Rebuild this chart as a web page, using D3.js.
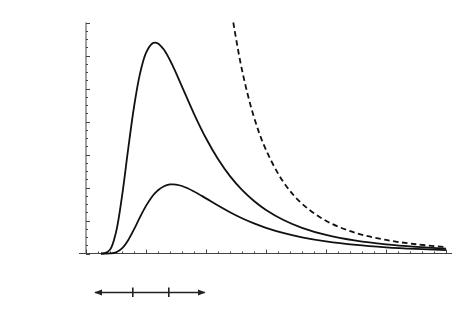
<!DOCTYPE html>
<html>
<head>
<meta charset="utf-8">
<script src="https://cdn.jsdelivr.net/npm/d3@7"></script>
<style>
  html, body { margin: 0; padding: 0; background: #fff; }
  svg { display: block; }
</style>
</head>
<body>
<svg id="chart" width="469" height="314"></svg>
<script>
// ---- data ----
const wavelengths = [0.25, 0.3, 0.4, 0.5, 0.6, 0.7, 0.8, 0.9, 1.0, 1.1, 1.15, 1.2, 1.3, 1.4, 1.45, 1.5, 1.6, 1.8, 2.0, 2.2, 2.4, 2.6, 2.8, 3.0, 3.3, 3.6, 4.0, 4.5, 5.0, 5.5, 6.0];
const hotCurve  = [0, 0.004, 0.113, 0.642, 1.731, 3.122, 4.439, 5.452, 6.078, 6.357, 6.391, 6.364, 6.172, 5.857, 5.671, 5.473, 5.059, 4.234, 3.491, 2.863, 2.345, 1.927, 1.590, 1.319, 1.007, 0.779, 0.564, 0.388, 0.274, 0.199, 0.148];
const coolCurve = [0, 0, 0.003, 0.036, 0.156, 0.397, 0.732, 1.100, 1.442, 1.720, 1.828, 1.918, 2.039, 2.092, 2.095, 2.088, 2.045, 1.881, 1.670, 1.452, 1.249, 1.067, 0.911, 0.778, 0.615, 0.489, 0.366, 0.259, 0.188, 0.139, 0.105];
const classicalX = [2.455, 2.6, 2.8, 3.0, 3.3, 3.6, 4.0, 4.5, 5.0, 5.5, 6.0];
const classicalY = [7.0, 5.56, 4.13, 3.14, 2.14, 1.51, 0.99, 0.62, 0.41, 0.28, 0.196];
const xMajorTicks = [0, 1, 2, 3, 4, 5, 6];
const yMajorTicks = [0, 1, 2, 3, 4, 5, 6, 7];
const barTicks = [0.78, 1.38];
const barEnds = [0.15, 1.98];

// ---- layout ----
const svg = d3.select("#chart");
const x = d3.scaleLinear().domain([0, 6]).range([86, 446]);
const y = d3.scaleLinear().domain([0, 7]).range([253.5, 22.5]);
const axisColor = "#444";

// y axis
const gy = svg.append("g");
gy.append("line").attr("x1", x(0)).attr("x2", x(0)).attr("y1", y(7)).attr("y2", y(0))
  .attr("stroke", axisColor).attr("stroke-width", 1);
const yMinor = d3.range(0, 7.001, 0.25);
gy.selectAll("line.t").data(yMinor).join("line").attr("class", "t")
  .attr("x1", x(0)).attr("x2", d => x(0) + (yMajorTicks.some(t => Math.abs(t - d) < 1e-6) ? 4 : 2))
  .attr("y1", d => Math.round(y(d)) + 0.5).attr("y2", d => Math.round(y(d)) + 0.5)
  .attr("stroke", axisColor).attr("stroke-width", 1);

// x axis
const gx = svg.append("g");
gx.append("line").attr("x1", 79).attr("x2", 452).attr("y1", y(0)).attr("y2", y(0))
  .attr("stroke", axisColor).attr("stroke-width", 1);
const xMinor = d3.range(0, 6.001, 0.2);
gx.selectAll("line.t").data(xMinor).join("line").attr("class", "t")
  .attr("x1", d => Math.round(x(d)) + 0.5).attr("x2", d => Math.round(x(d)) + 0.5)
  .attr("y1", y(0)).attr("y2", d => y(0) - (xMajorTicks.some(t => Math.abs(t - d) < 1e-6) ? 4 : 2))
  .attr("stroke", axisColor).attr("stroke-width", 1);

// curves
const line = d3.line().x(d => x(d[0])).y(d => y(d[1])).curve(d3.curveCatmullRom.alpha(0.5));
svg.append("path").datum(wavelengths.map((w, i) => [w, hotCurve[i]]))
  .attr("d", line).attr("fill", "none").attr("stroke", "#111").attr("stroke-width", 1.8);
svg.append("path").datum(wavelengths.map((w, i) => [w, coolCurve[i]]))
  .attr("d", line).attr("fill", "none").attr("stroke", "#111").attr("stroke-width", 1.8);
svg.append("path").datum(classicalX.map((w, i) => [w, classicalY[i]]))
  .attr("d", line).attr("fill", "none").attr("stroke", "#111").attr("stroke-width", 1.8)
  .attr("stroke-dasharray", "5.5,3.5");

// scale bar with arrows
const defs = svg.append("defs");
defs.append("marker").attr("id", "arr").attr("viewBox", "0 0 10 10")
  .attr("refX", 9).attr("refY", 5).attr("markerWidth", 5).attr("markerHeight", 5)
  .attr("orient", "auto-start-reverse")
  .append("path").attr("d", "M0,1 L10,5 L0,9 Z").attr("fill", "#222");
const by = 292.5;
svg.append("line").attr("x1", x(barEnds[0])).attr("x2", x(barEnds[1]))
  .attr("y1", by).attr("y2", by).attr("stroke", "#222").attr("stroke-width", 1.6)
  .attr("marker-start", "url(#arr)").attr("marker-end", "url(#arr)");
svg.selectAll("line.bt").data(barTicks).join("line").attr("class", "bt")
  .attr("x1", d => x(d)).attr("x2", d => x(d)).attr("y1", by - 5).attr("y2", by + 4.5)
  .attr("stroke", "#222").attr("stroke-width", 1.6);
</script>
</body>
</html>
